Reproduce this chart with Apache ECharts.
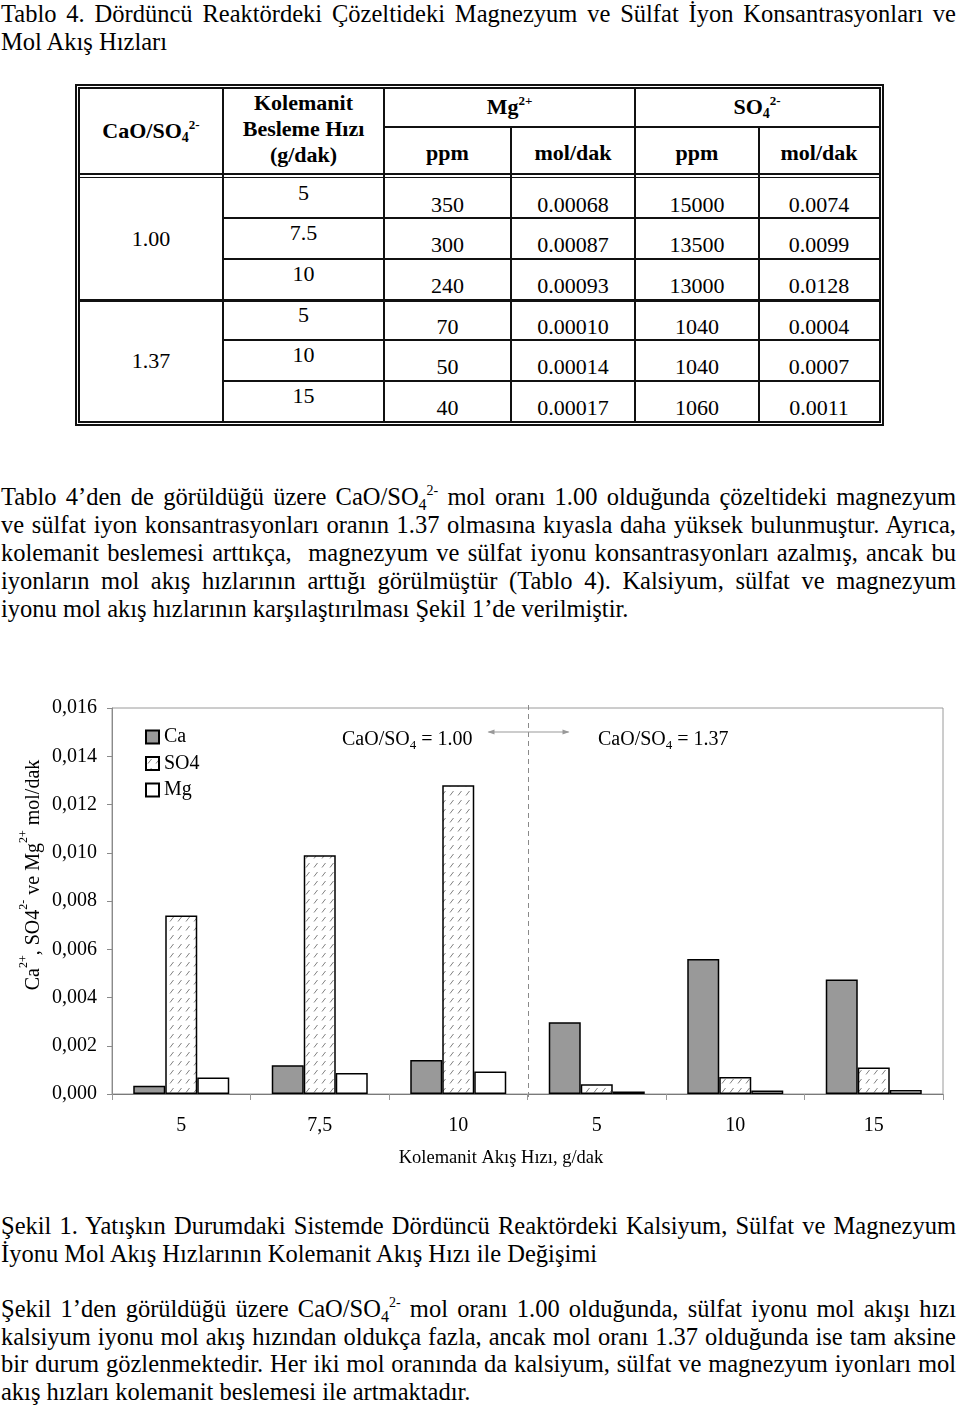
<!DOCTYPE html>
<html>
<head>
<meta charset="utf-8">
<script src="https://cdn.jsdelivr.net/npm/echarts@6/dist/echarts.min.js"></script>
<style>
  html, body { margin:0; padding:0; background:#fff; }
  body { width:960px; height:1410px; position:relative; overflow:hidden; font-family:"Liberation Serif","Times New Roman",serif; color:#000; }
  .ln { position:absolute; left:1px; width:955px; height:28px; line-height:28px; font-size:24.5px; white-space:nowrap; }
  .ln > span { display:inline-block; white-space:nowrap; }
  .sup { font-size:14px; position:relative; top:-10px; }
  .sub { font-size:16px; position:relative; top:5px; }
  .tl { position:absolute; background:#111; }
  .tc { position:absolute; height:24px; line-height:24px; font-size:22px; text-align:center; white-space:nowrap; }
  .tc.b { font-weight:bold; }
  .tc .sup { font-size:13px; top:-9px; }
  .tc .sub { font-size:14px; top:4px; }
  #chart { position:absolute; left:0; top:690px; width:960px; height:485px; }
</style>
</head>
<body>
<div class="ln" data-j="1" style="top:0px"><span>Tablo 4. Dördüncü Reaktördeki Çözeltideki Magnezyum ve Sülfat İyon Konsantrasyonları ve</span></div>
<div class="ln" style="top:28px"><span>Mol Akış Hızları</span></div>

<div id="table"></div>

<div class="ln" data-j="1" style="top:483px"><span>Tablo 4’den de görüldüğü üzere CaO/SO<span class="sub">4</span><span class="sup">2-</span> mol oranı 1.00 olduğunda çözeltideki magnezyum</span></div>
<div class="ln" data-j="1" style="top:511px"><span>ve sülfat iyon konsantrasyonları oranın 1.37 olmasına kıyasla daha yüksek bulunmuştur. Ayrıca,</span></div>
<div class="ln" data-j="1" style="top:539px"><span>kolemanit beslemesi arttıkça, &nbsp;magnezyum ve sülfat iyonu konsantrasyonları azalmış, ancak bu</span></div>
<div class="ln" data-j="1" style="top:567px"><span>iyonların mol akış hızlarının arttığı görülmüştür (Tablo 4). Kalsiyum, sülfat ve magnezyum</span></div>
<div class="ln" style="top:595px"><span>iyonu mol akış hızlarının karşılaştırılması Şekil 1’de verilmiştir.</span></div>

<div id="chart"></div>

<div class="ln" data-j="1" style="top:1212px"><span>Şekil 1. Yatışkın Durumdaki Sistemde Dördüncü Reaktördeki Kalsiyum, Sülfat ve Magnezyum</span></div>
<div class="ln" style="top:1240px"><span>İyonu Mol Akış Hızlarının Kolemanit Akış Hızı ile Değişimi</span></div>

<div class="ln" data-j="1" style="top:1295px"><span>Şekil 1’den görüldüğü üzere CaO/SO<span class="sub">4</span><span class="sup">2-</span> mol oranı 1.00 olduğunda, sülfat iyonu mol akışı hızı</span></div>
<div class="ln" data-j="1" style="top:1323px"><span>kalsiyum iyonu mol akış hızından oldukça fazla, ancak mol oranı 1.37 olduğunda ise tam aksine</span></div>
<div class="ln" data-j="1" style="top:1350px"><span>bir durum gözlenmektedir. Her iki mol oranında da kalsiyum, sülfat ve magnezyum iyonları mol</span></div>
<div class="ln" style="top:1378px"><span>akış hızları kolemanit beslemesi ile artmaktadır.</span></div>

<script>
// ---------------- Table data ----------------
const tableRatios = ['1.00', '1.37'];
const tableFeedRates = ['5', '7.5', '10', '5', '10', '15'];
const tableMgPpm = ['350', '300', '240', '70', '50', '40'];
const tableMgMol = ['0.00068', '0.00087', '0.00093', '0.00010', '0.00014', '0.00017'];
const tableSo4Ppm = ['15000', '13500', '13000', '1040', '1040', '1060'];
const tableSo4Mol = ['0.0074', '0.0099', '0.0128', '0.0004', '0.0007', '0.0011'];

// ---------------- Chart data ----------------
const categories = ['5', '7,5', '10', '5', '10', '15'];
const caValues  = [0.00034, 0.00119, 0.00141, 0.00297, 0.0056, 0.00475];
const so4Values = [0.0074, 0.0099, 0.0128, 0.0004, 0.0007, 0.0011];
const mgValues  = [0.00068, 0.00087, 0.00093, 0.00010, 0.00014, 0.00017];
const seriesNames = ['Ca', 'SO4', 'Mg'];
const ratioLabels = ['1.00', '1.37'];
const xAxisTitle = 'Kolemanit Akış Hızı, g/dak';

// ---------------- Build table ----------------
(function buildTable(){
  const t = document.getElementById('table');
  function h(x1, x2, y, w){ const d=document.createElement('div'); d.className='tl'; d.style.left=x1+'px'; d.style.top=y+'px'; d.style.width=(x2-x1)+'px'; d.style.height=w+'px'; t.appendChild(d); }
  function v(x, y1, y2, w){ const d=document.createElement('div'); d.className='tl'; d.style.left=x+'px'; d.style.top=y1+'px'; d.style.width=w+'px'; d.style.height=(y2-y1)+'px'; t.appendChild(d); }
  function c(x1, x2, yc, html, bold){ const d=document.createElement('div'); d.className='tc'+(bold?' b':''); d.style.left=x1+'px'; d.style.width=(x2-x1)+'px'; d.style.top=(yc-12)+'px'; d.innerHTML=html; t.appendChild(d); }
  const X = [79, 223, 384, 511, 635, 759, 879];
  const rowTop = [178, 218, 259, 300, 340, 381, 421];
  h(75, 884, 84, 1.5); h(78, 881, 87, 1.5);
  h(75, 884, 424, 1.5); h(78, 881, 421, 1.5);
  v(75, 84, 425.5, 1.5); v(78, 87, 422.5, 1.5);
  v(882, 84, 425.5, 1.5); v(879, 87, 422.5, 1.5);
  h(78, 881, 173, 1.5); h(78, 881, 176.5, 1.5);
  h(384, 881, 126, 2);
  v(222, 87, 422, 2); v(383, 87, 422, 2); v(634, 87, 422, 2);
  v(510, 126, 422, 2); v(758, 126, 422, 2);
  h(222, 881, 217, 2); h(222, 881, 258, 2);
  h(78, 881, 299, 2.5);
  h(222, 881, 339, 2); h(222, 881, 380, 2);
  c(X[0], X[1], 131, 'CaO/SO<span class="sub">4</span><span class="sup">2-</span>', true);
  c(X[1], X[2], 103, 'Kolemanit', true);
  c(X[1], X[2], 129, 'Besleme Hızı', true);
  c(X[1], X[2], 155, '(g/dak)', true);
  c(X[2], X[4], 107, 'Mg<span class="sup">2+</span>', true);
  c(X[4], X[6], 107, 'SO<span class="sub">4</span><span class="sup">2-</span>', true);
  c(X[2], X[3], 153, 'ppm', true);
  c(X[3], X[4], 153, 'mol/dak', true);
  c(X[4], X[5], 153, 'ppm', true);
  c(X[5], X[6], 153, 'mol/dak', true);
  c(X[0], X[1], (rowTop[0] + rowTop[3]) / 2, tableRatios[0]);
  c(X[0], X[1], (rowTop[3] + rowTop[6]) / 2, tableRatios[1]);
  for (let i = 0; i < 6; i++) {
    c(X[1], X[2], rowTop[i] + 15, tableFeedRates[i]);
    c(X[2], X[3], rowTop[i] + 27, tableMgPpm[i]);
    c(X[3], X[4], rowTop[i] + 27, tableMgMol[i]);
    c(X[4], X[5], rowTop[i] + 27, tableSo4Ppm[i]);
    c(X[5], X[6], rowTop[i] + 27, tableSo4Mol[i]);
  }
})();

// ---------------- Justify full lines ----------------
document.querySelectorAll('.ln[data-j]').forEach(function(div){
  const span = div.firstElementChild;
  const target = 955;
  const natural = span.getBoundingClientRect().width;
  const spaces = (span.textContent.match(/[ \u00a0]/g) || []).length;
  if (spaces > 0) span.style.wordSpacing = ((target - natural) / spaces) + 'px';
});

// ---------------- Chart ----------------
function makeHatch(){
  const cv = document.createElement('canvas');
  cv.width = 8; cv.height = 9;
  const ctx = cv.getContext('2d');
  ctx.fillStyle = '#ffffff';
  ctx.fillRect(0, 0, 8, 9);
  ctx.strokeStyle = '#808080';
  ctx.lineWidth = 1;
  ctx.beginPath();
  ctx.moveTo(2, 6.5); ctx.lineTo(5.5, 2);
  ctx.stroke();
  return cv;
}
const hatch = makeHatch();
const FONT = 'Liberation Serif';

const chart = echarts.init(document.getElementById('chart'), null, { renderer: 'canvas' });
const option = {
  animation: false,
  backgroundColor: '#fff',
  grid: { left: 112, right: 17, top: 18, bottom: 81, show: true, borderColor: '#9a9a9a', borderWidth: 1 },
  legend: {
    orient: 'vertical', left: 140, top: 32, icon: 'rect',
    itemWidth: 13, itemHeight: 13, itemGap: 6.5,
    textStyle: { fontFamily: FONT, fontSize: 20, color: '#000', lineHeight: 20 },
    data: seriesNames
  },
  xAxis: {
    type: 'category', data: categories,
    axisLine: { lineStyle: { color: '#7a7a7a', width: 1 } },
    axisTick: { show: true, length: 6, lineStyle: { color: '#9a9a9a' } },
    axisLabel: { fontFamily: FONT, fontSize: 20, color: '#000', margin: 22 }
  },
  yAxis: {
    type: 'value', min: 0, max: 0.016, interval: 0.002,
    axisLine: { show: true, lineStyle: { color: '#8a8a8a', width: 1 } },
    axisTick: { show: true, length: 5, lineStyle: { color: '#8a8a8a' } },
    splitLine: { show: false },
    axisLabel: { fontFamily: FONT, fontSize: 20, color: '#000', margin: 15,
      formatter: function(v){ return v.toFixed(3).replace('.', ','); } }
  },
  series: [
    { name: seriesNames[0], type: 'bar', data: caValues, barWidth: 32, barGap: '0%',
      itemStyle: { color: '#999999', borderColor: '#000', borderWidth: 1.5 } },
    { name: seriesNames[1], type: 'bar', data: so4Values, barWidth: 32, barGap: '0%',
      itemStyle: { color: { image: hatch, repeat: 'repeat' }, borderColor: '#000', borderWidth: 1.5 } },
    { name: seriesNames[2], type: 'bar', data: mgValues, barWidth: 32, barGap: '0%',
      itemStyle: { color: '#ffffff', borderColor: '#000', borderWidth: 1.5 } }
  ]
};
chart.setOption(option);

const p2 = chart.convertToPixel({ xAxisIndex: 0 }, 2);
const p3 = chart.convertToPixel({ xAxisIndex: 0 }, 3);
const sepX = Math.round((p2 + p3) / 2) + 0.5;
const arrowY = 42;
const richMain = { fontFamily: FONT, fontSize: 20, lineHeight: 24, fill: '#000' };
chart.setOption({
  graphic: [
    { type: 'line', shape: { x1: sepX, y1: 15, x2: sepX, y2: 410 },
      style: { stroke: '#8a8a8a', lineWidth: 1, lineDash: [5, 4] }, z: 10 },
    { type: 'line', shape: { x1: sepX - 40, y1: arrowY, x2: sepX + 40, y2: arrowY },
      style: { stroke: '#999', lineWidth: 1.2 }, z: 10 },
    { type: 'polygon', shape: { points: [[sepX - 41, arrowY], [sepX - 34, arrowY - 2.5], [sepX - 34, arrowY + 2.5]] },
      style: { fill: '#999' }, z: 10 },
    { type: 'polygon', shape: { points: [[sepX + 41, arrowY], [sepX + 34, arrowY - 2.5], [sepX + 34, arrowY + 2.5]] },
      style: { fill: '#999' }, z: 10 },
    { type: 'text', x: 342, y: 50, z: 10,
      style: { text: '{m|CaO/SO}{b|4}{m| = ' + ratioLabels[0] + '}', align: 'left', verticalAlign: 'middle',
        rich: { m: richMain, b: { fontFamily: FONT, fontSize: 13, lineHeight: 24, verticalAlign: 'bottom', fill: '#000' } } } },
    { type: 'text', x: 598, y: 50, z: 10,
      style: { text: '{m|CaO/SO}{b|4}{m| = ' + ratioLabels[1] + '}', align: 'left', verticalAlign: 'middle',
        rich: { m: richMain, b: { fontFamily: FONT, fontSize: 13, lineHeight: 24, verticalAlign: 'bottom', fill: '#000' } } } },
    { type: 'text', x: 31, y: 185, rotation: Math.PI / 2, z: 10,
      style: { text: '{m|Ca}{s|2+}{m|, SO4}{s|2-}{m| ve Mg}{s|2+}{m| mol/dak}', align: 'center', verticalAlign: 'middle',
        rich: {
          m: { fontFamily: FONT, fontSize: 20, lineHeight: 26, verticalAlign: 'bottom', fill: '#000' },
          s: { fontFamily: FONT, fontSize: 12, lineHeight: 13, verticalAlign: 'top', fill: '#000' }
        } } },
    { type: 'text', x: 501, y: 468, z: 10,
      style: { text: xAxisTitle, align: 'center', verticalAlign: 'middle', fontFamily: FONT, fontSize: 18.5, fill: '#000' } }
  ]
});
</script>
</body>
</html>
